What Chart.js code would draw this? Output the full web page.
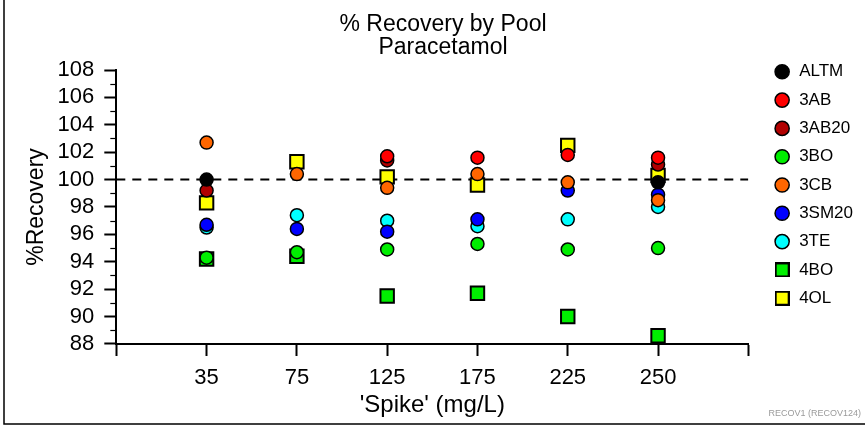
<!DOCTYPE html>
<html>
<head>
<meta charset="utf-8">
<script src="https://cdn.jsdelivr.net/npm/chart.js@4/dist/chart.umd.min.js"></script>
<style>
  html, body { margin: 0; padding: 0; background: #fff; }
  #marco { position: relative; width: 865px; height: 428px; }
</style>
</head>
<body>
<div id="marco"><canvas id="graficoRecuperacion"></canvas></div>
<script>
// Concentraciones de spike (eje X)
const categorias = ["35", "75", "125", "175", "225", "250"];

// % de recuperación por pool (null = sin dato)
const altm  = [100.0, null, null, null, null, 99.8];
const p3ab  = [null, null, 101.7, 101.6, 101.8, 101.6];
const p3ab20 = [99.2, null, 101.4, null, null, 101.1];
const p3bo  = [94.3, 94.7, 94.9, 95.3, 94.9, 95.0];
const p3cb  = [102.7, 100.4, 99.4, 100.4, 99.8, 98.5];
const p3sm20 = [96.7, 96.4, 96.2, 97.1, 99.2, 98.9];
const p3te  = [96.5, 97.4, 97.0, 96.6, 97.1, 98.0];
const p4bo  = [94.2, 94.4, 91.5, 91.7, 90.0, 88.6];
const p4ol  = [98.3, 101.3, 100.2, 99.6, 102.5, 100.3];

// Ticks del eje Y
const ticksY = [88, 90, 92, 94, 96, 98, 100, 102, 104, 106, 108];
const referencia = 100;
const pie = "RECOV1 (RECOV124)";

const fuente = "'Liberation Sans', Arial, sans-serif";

// Convierte un array de valores en puntos {x, y} por posición de categoría
function puntos(valores) {
    return valores
        .map((v, i) => (v === null ? null : { x: i + 1, y: v }))
        .filter(p => p !== null);
}

function serie(label, valores, color, estilo) {
    return {
        type: "scatter",
        label,
        data: puntos(valores),
        backgroundColor: color,
        borderColor: "#000",
        borderWidth: estilo === "rect" ? 2 : 1.5,
        pointStyle: estilo,
        pointRadius: estilo === "rect" ? 9.5 : 6.5,
        pointHoverRadius: estilo === "rect" ? 9.5 : 6.5
    };
}

// Cuadrado de la leyenda (el estilo "rect" por defecto queda pequeño)
function cuadradoLeyenda(color) {
    const c = document.createElement("canvas");
    c.width = 15;
    c.height = 15;
    const g = c.getContext("2d");
    g.fillStyle = color;
    g.fillRect(1, 1, 13, 13);
    g.strokeStyle = "#000";
    g.lineWidth = 2;
    g.strokeRect(1, 1, 13, 13);
    return c;
}

// Marcas menores del eje Y, marco exterior y texto de pie
const decoracion = {
    id: "decoracion",
    afterDraw(chart) {
        const { ctx, scales } = chart;
        const y = scales.y;
        ctx.save();
        ctx.strokeStyle = "#000";
        ctx.lineWidth = 1.2;
        for (let v = ticksY[0] + 1; v < ticksY[ticksY.length - 1]; v += 2) {
            const py = Math.round(y.getPixelForValue(v)) + 0.5;
            ctx.beginPath();
            ctx.moveTo(y.right - 6, py);
            ctx.lineTo(y.right, py);
            ctx.stroke();
        }
        // Marco
        ctx.lineWidth = 1.5;
        ctx.beginPath();
        ctx.moveTo(4, 0);
        ctx.lineTo(4, 424);
        ctx.lineTo(865, 424);
        ctx.stroke();
        // Pie
        ctx.fillStyle = "#9a9a9a";
        ctx.font = "9px " + fuente;
        ctx.textAlign = "right";
        ctx.textBaseline = "middle";
        ctx.fillText(pie, 861, 414);
        ctx.restore();
    }
};

new Chart(document.getElementById("graficoRecuperacion"), {
    data: {
        datasets: [
            serie("ALTM", altm, "#000000", "circle"),
            serie("3AB", p3ab, "#ff0000", "circle"),
            serie("3AB20", p3ab20, "#b20000", "circle"),
            serie("3BO", p3bo, "#00ee00", "circle"),
            serie("3CB", p3cb, "#ff6600", "circle"),
            serie("3SM20", p3sm20, "#0000ff", "circle"),
            serie("3TE", p3te, "#00ffff", "circle"),
            serie("4BO", p4bo, "#00ee00", "rect"),
            serie("4OL", p4ol, "#ffff00", "rect"),
            {
                // Línea de referencia al 100 %
                type: "line",
                label: "",
                data: [{ x: 0, y: referencia }, { x: categorias.length + 1, y: referencia }],
                borderColor: "#000",
                borderWidth: 2,
                borderDash: [9, 7],
                pointRadius: 0,
                order: 10
            }
        ]
    },
    options: {
        responsive: true,
        maintainAspectRatio: false,
        animation: false,
        layout: { padding: { left: 23, right: 2, top: 0, bottom: 11 } },
        plugins: {
            title: {
                display: true,
                text: ["% Recovery by Pool", "Paracetamol"],
                color: "#000",
                font: { family: fuente, size: 23, weight: "normal", lineHeight: 1.0 },
                padding: { top: 13, bottom: 11 }
            },
            legend: {
                position: "right",
                align: "start",
                title: {
                    display: true,
                    text: " ",
                    font: { size: 10 },
                    padding: { top: 0, bottom: 40 }
                },
                labels: {
                    usePointStyle: true,
                    boxHeight: 10,
                    boxWidth: 17,
                    padding: 11.3,
                    color: "#000",
                    font: { family: fuente, size: 17 },
                    filter: item => item.text !== "",
                    generateLabels: chart => {
                        const items = Chart.defaults.plugins.legend.labels.generateLabels(chart);
                        items.forEach(item => {
                            const ds = chart.data.datasets[item.datasetIndex];
                            if (ds.pointStyle === "rect") {
                                item.pointStyle = cuadradoLeyenda(ds.backgroundColor);
                            }
                        });
                        return items;
                    }
                }
            },
            tooltip: { enabled: false }
        },
        scales: {
            x: {
                type: "linear",
                min: 0,
                max: categorias.length + 1,
                afterBuildTicks: escala => {
                    escala.ticks = [0, 1, 2, 3, 4, 5, 6, 7].map(v => ({ value: v }));
                },
                ticks: {
                    autoSkip: false,
                    maxRotation: 0,
                    color: "#000",
                    font: { family: fuente, size: 22, lineHeight: 0.655 },
                    padding: 14.8,
                    callback: v => categorias[v - 1] ?? ""
                },
                grid: {
                    drawOnChartArea: false,
                    tickLength: 12,
                    tickWidth: 2,
                    tickColor: "#000"
                },
                border: { display: true, color: "#000", width: 2 },
                title: {
                    display: true,
                    text: "'Spike' (mg/L)",
                    color: "#000",
                    font: { family: fuente, size: 24, lineHeight: 1.0 },
                    padding: { top: -7, bottom: 0 }
                }
            },
            y: {
                min: ticksY[0],
                max: ticksY[ticksY.length - 1],
                afterBuildTicks: escala => {
                    escala.ticks = ticksY.map(v => ({ value: v }));
                },
                ticks: {
                    autoSkip: false,
                    color: "#000",
                    font: { family: fuente, size: 22 },
                    padding: 10
                },
                grid: {
                    drawOnChartArea: false,
                    tickLength: 12,
                    tickWidth: 2,
                    tickColor: "#000"
                },
                border: { display: true, color: "#000", width: 2 },
                title: {
                    display: true,
                    text: "%Recovery",
                    color: "#000",
                    font: { family: fuente, size: 23 },
                    padding: { top: 0, bottom: -3 }
                }
            },
            // Separación entre el área de trazado y la leyenda
            hueco: {
                type: "linear",
                position: "right",
                display: true,
                grid: { display: false },
                border: { display: false },
                ticks: { display: false },
                afterFit: escala => { escala.width = 14; }
            }
        }
    },
    plugins: [decoracion]
});
</script>
</body>
</html>
